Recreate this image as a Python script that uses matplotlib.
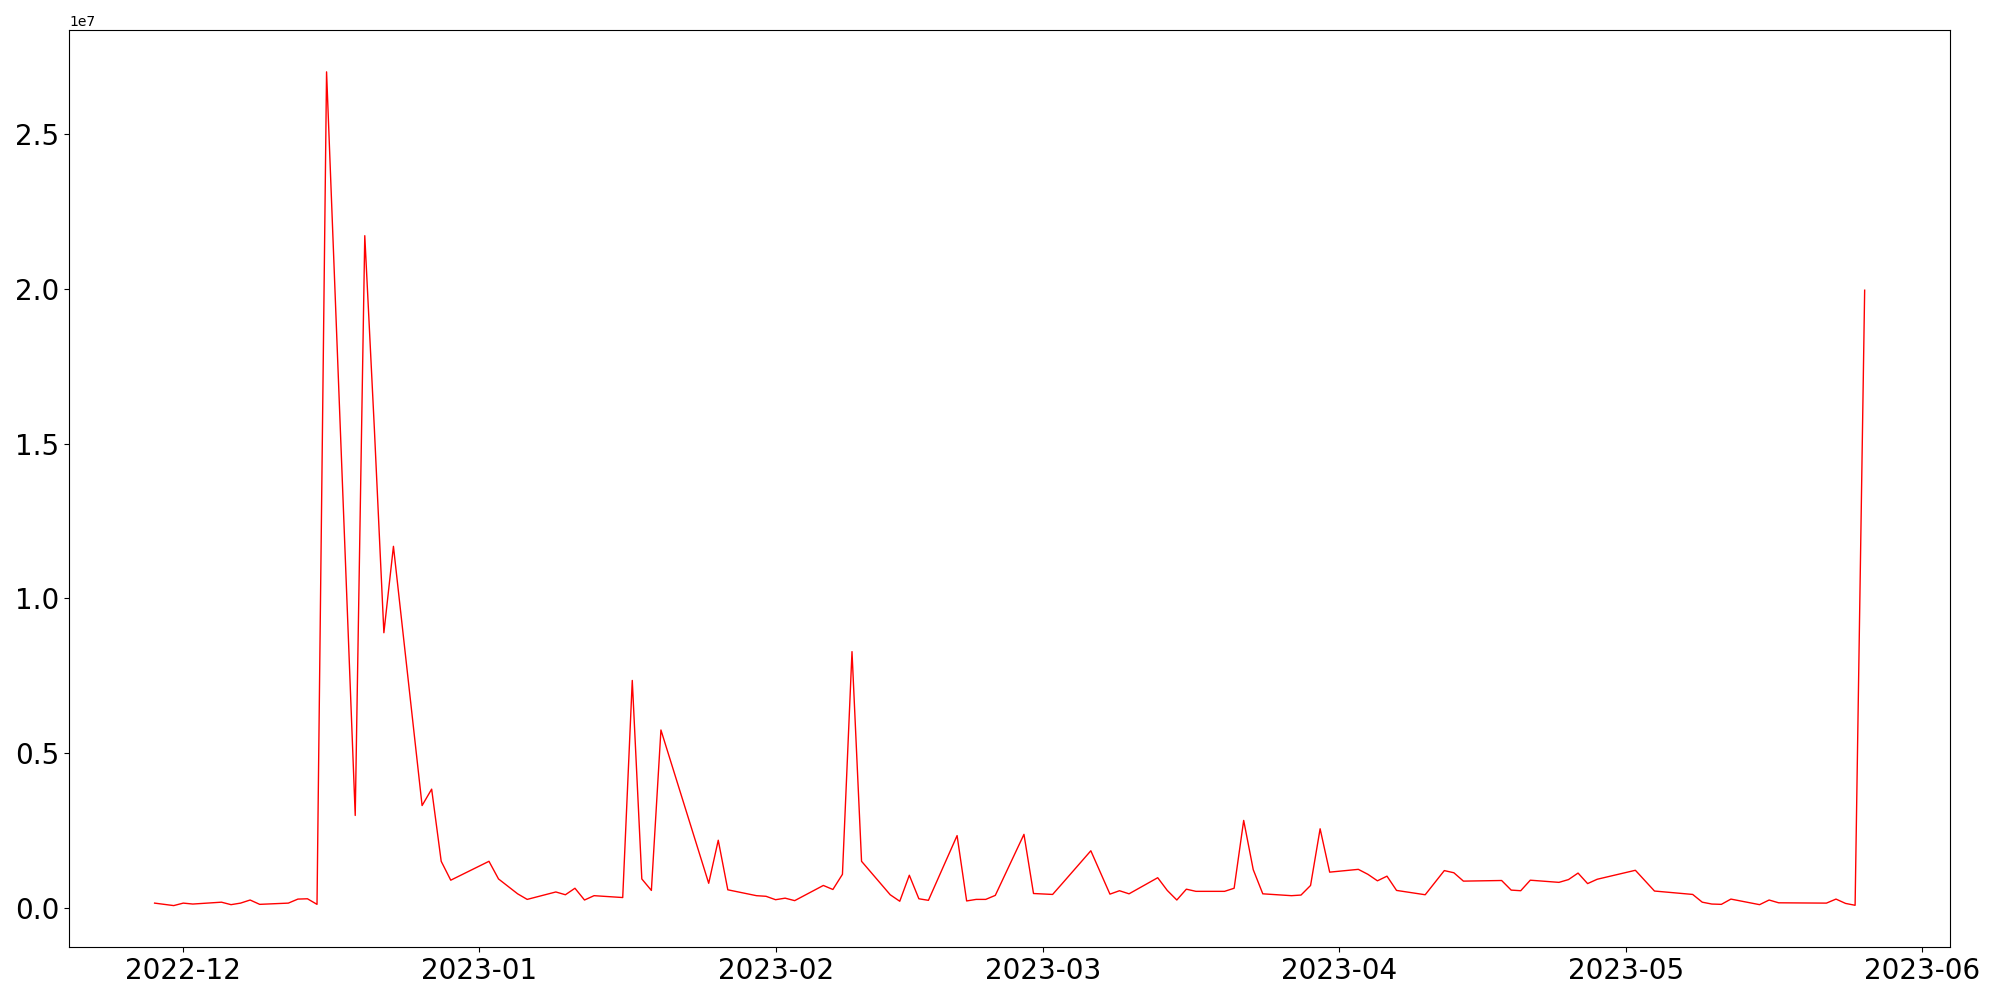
import numpy as np
import pandas as pd
import matplotlib
matplotlib.use('Agg')
import matplotlib.pyplot as plt

# trading days
dates = [
    '2022-11-28', '2022-11-29', '2022-11-30', '2022-12-01', '2022-12-02',
    '2022-12-05', '2022-12-06', '2022-12-07', '2022-12-08', '2022-12-09',
    '2022-12-12', '2022-12-13', '2022-12-14', '2022-12-15', '2022-12-16',
    '2022-12-19', '2022-12-20', '2022-12-21', '2022-12-22', '2022-12-23',
    '2022-12-26', '2022-12-27', '2022-12-28', '2022-12-29',
    '2023-01-02', '2023-01-03', '2023-01-05', '2023-01-06',
    '2023-01-09', '2023-01-10', '2023-01-11', '2023-01-12', '2023-01-13',
    '2023-01-16', '2023-01-17', '2023-01-18', '2023-01-19', '2023-01-20',
    '2023-01-25', '2023-01-26', '2023-01-27',
    '2023-01-30', '2023-01-31', '2023-02-01', '2023-02-02', '2023-02-03',
    '2023-02-06', '2023-02-07', '2023-02-08', '2023-02-09', '2023-02-10',
    '2023-02-13', '2023-02-14', '2023-02-15', '2023-02-16', '2023-02-17',
    '2023-02-20', '2023-02-21', '2023-02-22', '2023-02-23', '2023-02-24',
    '2023-02-27', '2023-02-28', '2023-03-02', '2023-03-03',
    '2023-03-06', '2023-03-08', '2023-03-09', '2023-03-10',
    '2023-03-13', '2023-03-14', '2023-03-15', '2023-03-16', '2023-03-17',
    '2023-03-20', '2023-03-21', '2023-03-22', '2023-03-23', '2023-03-24',
    '2023-03-27', '2023-03-28', '2023-03-29', '2023-03-30', '2023-03-31',
    '2023-04-03', '2023-04-04', '2023-04-05', '2023-04-06', '2023-04-07',
    '2023-04-10', '2023-04-12', '2023-04-13', '2023-04-14',
    '2023-04-18', '2023-04-19', '2023-04-20', '2023-04-21',
    '2023-04-24', '2023-04-25', '2023-04-26', '2023-04-27', '2023-04-28',
    '2023-05-02', '2023-05-04',
    '2023-05-08', '2023-05-09', '2023-05-10', '2023-05-11', '2023-05-12',
    '2023-05-15', '2023-05-16', '2023-05-17',
    '2023-05-22', '2023-05-23', '2023-05-24', '2023-05-25', '2023-05-26',
]

# values in millions
volumeM = [
    0.16, 0.12, 0.08, 0.16, 0.13,
    0.19, 0.11, 0.16, 0.26, 0.12,
    0.16, 0.29, 0.30, 0.12, 27.0,
    2.99, 21.71, 15.5, 8.89, 11.68,
    3.31, 3.84, 1.51, 0.90,
    1.51, 0.94, 0.46, 0.28,
    0.52, 0.43, 0.64, 0.26, 0.40,
    0.34, 7.35, 0.94, 0.57, 5.75,
    0.80, 2.19, 0.59,
    0.40, 0.38, 0.27, 0.32, 0.24,
    0.73, 0.60, 1.09, 8.28, 1.51,
    0.43, 0.22, 1.06, 0.30, 0.25,
    2.34, 0.23, 0.28, 0.28, 0.41,
    2.38, 0.47, 0.44, 0.79,
    1.85, 0.45, 0.56, 0.46,
    0.98, 0.57, 0.26, 0.61, 0.54,
    0.54, 0.64, 2.83, 1.24, 0.46,
    0.40, 0.42, 0.73, 2.56, 1.16,
    1.25, 1.09, 0.88, 1.03, 0.57,
    0.43, 1.21, 1.14, 0.87,
    0.89, 0.58, 0.56, 0.90,
    0.83, 0.92, 1.13, 0.79, 0.93,
    1.22, 0.55,
    0.44, 0.19, 0.13, 0.12, 0.29,
    0.11, 0.26, 0.17,
    0.16, 0.29, 0.15, 0.09, 19.95,
]

x = pd.to_datetime(dates)
y = np.array(volumeM) * 1e6

fig, ax = plt.subplots(figsize=(20, 10), dpi=100)
ax.plot(x, y, color='red', linewidth=1)
ax.tick_params(axis='both', labelsize=20)

plt.tight_layout()
plt.savefig('out.png')
